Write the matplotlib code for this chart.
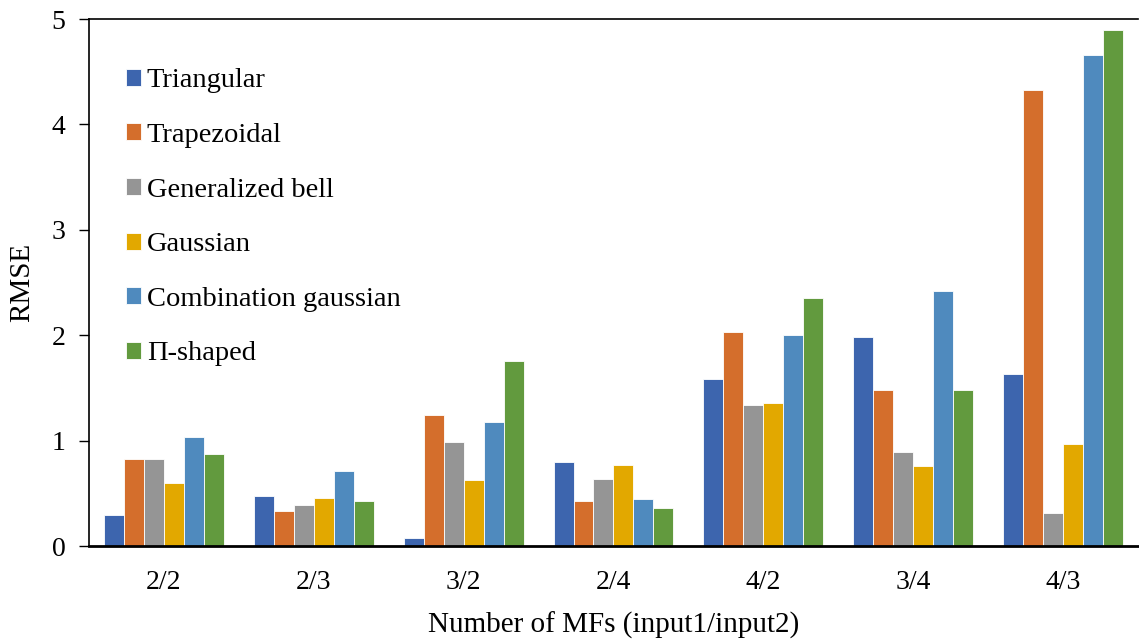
import numpy as np
import matplotlib.pyplot as plt

# data
groups = ['2/2', '2/3', '3/2', '2/4', '4/2', '3/4', '4/3']
series = ['Triangular', 'Trapezoidal', 'Generalized bell', 'Gaussian',
          'Combination gaussian', 'Π-shaped']
triangular = [0.29, 0.47, 0.08, 0.80, 1.58, 1.98, 1.63]
trapezoidal = [0.83, 0.33, 1.24, 0.43, 2.03, 1.48, 4.33]
gen_bell = [0.83, 0.39, 0.99, 0.64, 1.34, 0.89, 0.31]
gaussian = [0.60, 0.46, 0.63, 0.765, 1.355, 0.76, 0.965]
comb_gauss = [1.03, 0.715, 1.18, 0.45, 2.00, 2.42, 4.66]
pi_shaped = [0.87, 0.425, 1.76, 0.36, 2.35, 1.48, 4.90]

values = [triangular, trapezoidal, gen_bell, gaussian, comb_gauss, pi_shaped]
colors = ['#3D65AE', '#D46E2C', '#959595', '#E2A800', '#4F8ABE', '#629A3E']

plt.rcParams['font.family'] = 'Liberation Serif'

fig = plt.figure(figsize=(11.39, 6.39), dpi=100)
ax = fig.add_axes([0.0781, 0.1455, 0.921, 0.8247])

x = np.arange(len(groups))
w = 0.8 / len(series)
for i, (name, vals, c) in enumerate(zip(series, values, colors)):
    ax.bar(x - 0.4 + w * (i + 0.5), vals, width=w, color=c, label=name,
           edgecolor='white', linewidth=0.6)

ax.set_xlim(-0.5, 6.5)
ax.set_ylim(0, 5)
ax.set_yticks([0, 1, 2, 3, 4, 5])
ax.set_xticks(x)
ax.set_xticklabels(groups)
ax.tick_params(axis='y', labelsize=20, length=7, width=1, direction='out', pad=10)
ax.tick_params(axis='x', labelsize=20, length=0, pad=17)

ax.spines['right'].set_visible(False)
ax.spines['left'].set_linewidth(1.2)
ax.spines['top'].set_linewidth(1.2)
ax.spines['bottom'].set_linewidth(2)

ax.set_xlabel('Number of MFs (input1/input2)', fontsize=21, labelpad=12)
ax.set_ylabel('RMSE', fontsize=21, labelpad=12)

ax.legend(loc='upper left', bbox_to_anchor=(0.024, 0.928), frameon=False,
          fontsize=20.5, labelspacing=1.04, handlelength=0.55, handleheight=0.55,
          handletextpad=0.2, borderaxespad=0)

fig.savefig('out.png', dpi=100)
